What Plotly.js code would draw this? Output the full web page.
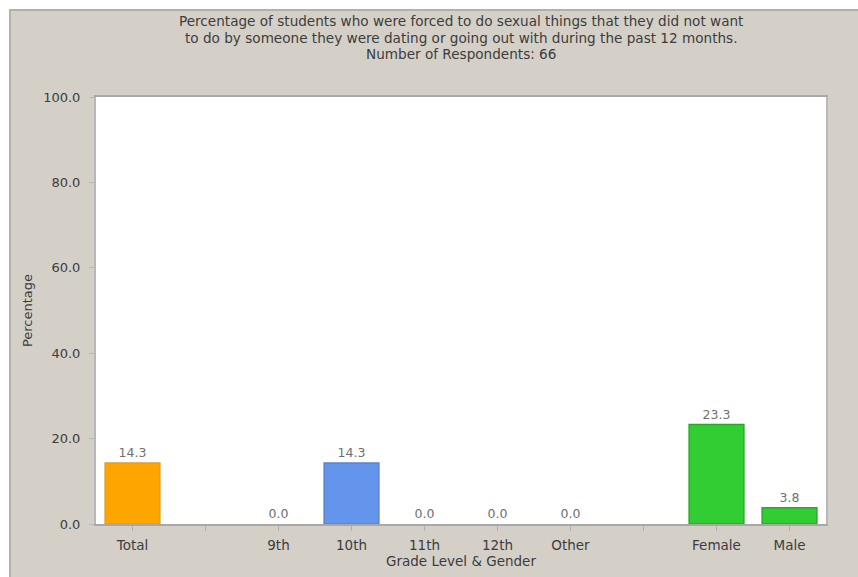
<!DOCTYPE html>
<html>
<head>
<meta charset="utf-8">
<script src="https://cdn.plot.ly/plotly-3.0.1.min.js"></script>
<style>html,body{margin:0;padding:0;background:#fff;}#chart{width:858px;height:577px;}</style>
</head>
<body>
<div id="chart"></div>
<script>
var categories = ["Total", " ", "9th", "10th", "11th", "12th", "Other", "  ", "Female", "Male"];
var percentages = [14.3, null, 0.0, 14.3, 0.0, 0.0, 0.0, null, 23.3, 3.8];
var barColors = ["#FFA500", "#FFA500", "#6495ED", "#6495ED", "#6495ED", "#6495ED", "#6495ED", "#32CD32", "#32CD32", "#32CD32"];
var barEdges = ["#D9A030", "#D9A030", "#5A82CC", "#5A82CC", "#5A82CC", "#5A82CC", "#5A82CC", "#2AA82A", "#2AA82A", "#2AA82A"];
var yTicks = [0, 20, 40, 60, 80, 100];
var titleLines = [
  "Percentage of students who were forced to do sexual things that they did not want",
  "to do by someone they were dating or going out with during the past 12 months.",
  "Number of Respondents: 66"
];

var W = 858, H = 577, L = 96, R = 32, T = 97, B = 53;
var pw = W - L - R, ph = H - T - B;
function px(x) { return (x - L) / pw; }
function py(y) { return (H - B - y) / ph; }
var FONT = "DejaVu Sans, sans-serif";
var TXT = "#3c3c3c";

var edgeWidths = percentages.map(function (v) { return v ? 1.5 : 0; });

var trace = {
  type: "bar",
  x: categories,
  y: percentages,
  marker: { color: barColors, line: { color: barEdges, width: edgeWidths } },
  texttemplate: "%{y:.1f}",
  textposition: "outside",
  cliponaxis: false,
  textfont: { family: FONT, size: 12.5, color: "#707070" },
  hoverinfo: "none"
};

var titleY = [21, 38, 54];
var annotations = titleLines.map(function (line, i) {
  return {
    text: line, xref: "paper", yref: "paper", x: 0.5, y: py(titleY[i]),
    xanchor: "center", yanchor: "middle", showarrow: false,
    font: { family: FONT, size: 13.6, color: TXT }
  };
});

var layout = {
  width: W, height: H,
  margin: { l: L, r: R, t: T, b: B, pad: 0 },
  paper_bgcolor: "#d4d0c8",
  plot_bgcolor: "#ffffff",
  showlegend: false,
  bargap: 0.25,
  font: { family: FONT, size: 13, color: TXT },
  annotations: annotations,
  xaxis: {
    type: "category",
    categoryorder: "array", categoryarray: categories,
    showline: true, linecolor: "#a8a8a8", linewidth: 2, mirror: true,
    ticks: "outside", ticklen: 5, tickcolor: "#b0b0b0", tickwidth: 1,
    ticklabelstandoff: 3,
    tickfont: { family: FONT, size: 13.5, color: TXT },
    showgrid: false, zeroline: false, fixedrange: true,
    title: { text: "Grade Level & Gender", standoff: 4, font: { family: FONT, size: 13.5, color: TXT } }
  },
  yaxis: {
    range: [0, 100], tickvals: yTicks, tickformat: ".1f",
    showline: true, linecolor: "#b8b8b8", linewidth: 2, mirror: true,
    ticks: "outside", ticklen: 5, tickcolor: "#b8b8b8", tickwidth: 1,
    ticklabelstandoff: 6,
    tickfont: { family: FONT, size: 13, color: TXT },
    showgrid: false, zeroline: false, fixedrange: true,
    title: { text: "Percentage", standoff: 8, font: { family: FONT, size: 13, color: TXT } }
  },
  shapes: [
    { type: "rect", xref: "paper", yref: "paper", x0: px(0), x1: px(W), y0: py(0), y1: py(9), fillcolor: "#ffffff", line: { width: 0 }, layer: "below" },
    { type: "rect", xref: "paper", yref: "paper", x0: px(0), x1: px(9), y0: py(0), y1: py(H), fillcolor: "#ffffff", line: { width: 0 }, layer: "below" },
    { type: "line", xref: "paper", yref: "paper", x0: px(9), x1: px(W), y0: py(10), y1: py(10), line: { color: "#b4b0a8", width: 2 }, layer: "below" },
    { type: "line", xref: "paper", yref: "paper", x0: px(10), x1: px(10), y0: py(9), y1: py(H), line: { color: "#b4b0a8", width: 2 }, layer: "below" }
  ]
};

Plotly.newPlot("chart", [trace], layout, { displayModeBar: false, staticPlot: true });
</script>
</body>
</html>
